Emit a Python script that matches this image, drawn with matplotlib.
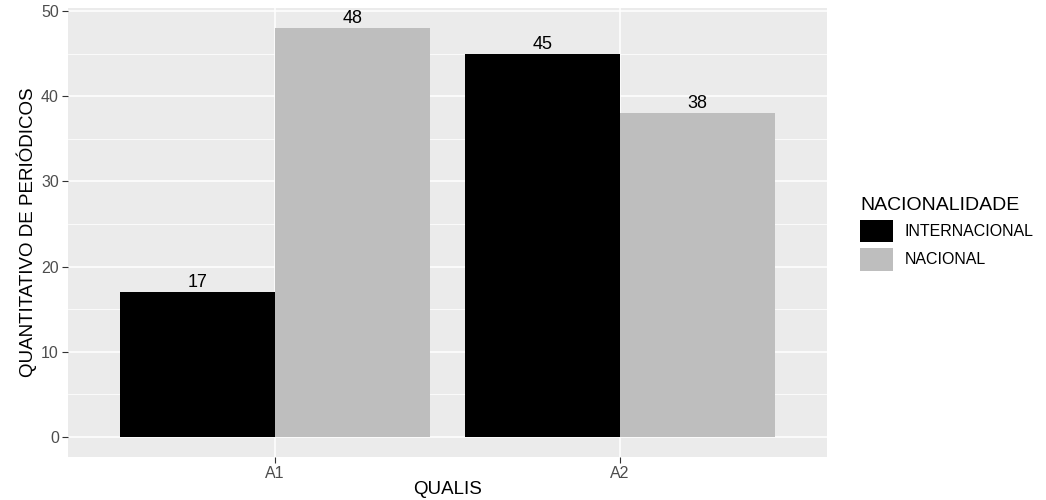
import matplotlib
matplotlib.use("Agg")
import matplotlib.pyplot as plt
import numpy as np
from matplotlib.patches import Patch

categories = ["A1", "A2"]
series_names = ["INTERNACIONAL", "NACIONAL"]
internacional = [17, 45]
nacional = [48, 38]
colors = ["#000000", "#BEBEBE"]

plt.rcParams['font.family'] = ['Liberation Sans', 'DejaVu Sans']

W, H = 1046, 500
fig = plt.figure(figsize=(W / 100, H / 100), dpi=100)
ax_top, ax_bot = 8, 457
ax = fig.add_axes([68 / W, 1 - ax_bot / H, (827 - 68) / W, (ax_bot - ax_top) / H])
ax.set_facecolor("#EBEBEB")

x = np.arange(1, len(categories) + 1)
bw = 0.45
for i, (vals, c) in enumerate(zip([internacional, nacional], colors)):
    pos = x + (i - 0.5) * bw
    ax.bar(pos, vals, width=bw, color=c, zorder=3, linewidth=0)
    for p, v in zip(pos, vals):
        ax.annotate(str(v), (p, v), xytext=(0, 3.8), textcoords="offset points",
                    ha="center", va="baseline", fontsize=13, color="black", zorder=4)

ax.set_xlim(0.4, 2.6)
ax.set_ylim(-2.4, 50.4)
ax.set_xticks(x)
ax.set_xticklabels(categories)
ax.set_yticks([0, 10, 20, 30, 40, 50])
ax.set_yticks([5, 15, 25, 35, 45], minor=True)
ax.grid(which="major", color="white", linewidth=1.1, zorder=0)
ax.grid(which="minor", axis="y", color="white", linewidth=0.55, zorder=0)
ax.tick_params(which="minor", length=0)
ax.tick_params(which="major", length=4, width=0.8, color="#333333",
               labelcolor="#4D4D4D", labelsize=11.5, pad=2.5)
for s in ax.spines.values():
    s.set_visible(False)

ax.set_xlabel("QUALIS", fontsize=13.5, color="black")
ax.xaxis.label.set_va("baseline")
ax.xaxis.set_label_coords(0.5, (ax_bot - 494) / (ax_bot - ax_top))
ax.set_ylabel("QUANTITATIVO DE PERIÓDICOS", fontsize=13.5, color="black", labelpad=3)

handles = [Patch(facecolor=c, edgecolor="none") for c in colors]
fs = 11.5
fpx = fs * 100 / 72
leg = fig.legend(handles, series_names, title="NACIONALIDADE",
                 loc="upper left", bbox_to_anchor=(860 / W, 1 - 197 / H),
                 frameon=False, fontsize=fs, title_fontsize=14,
                 handlelength=33 / fpx, handleheight=29 / fpx,
                 handletextpad=12 / fpx, labelspacing=5.5 / fpx,
                 borderpad=0, borderaxespad=0)
leg._legend_box.align = "left"

fig.savefig("out.png", dpi=100)
